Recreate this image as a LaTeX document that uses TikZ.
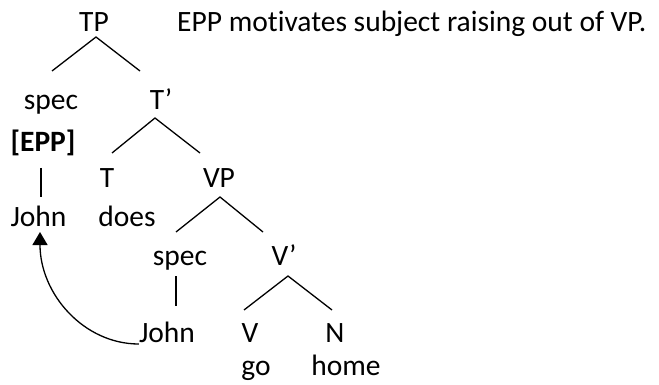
\documentclass[tikz,border=0pt]{standalone}
\usepackage{fontspec}
\setmainfont{Carlito}[Ligatures=NoCommon]
\usetikzlibrary{arrows.meta}
\begin{document}
\begin{tikzpicture}[x=1pt,y=-1pt,
  lbl/.style={anchor=base,inner sep=0pt,font=\fontsize{29.5}{34}\selectfont},
  br/.style={line width=1.3pt}]
\useasboundingbox (0,0) rectangle (659,385);
\node[lbl] (tp) at (94,32) {TP};
\node[lbl,anchor=base west] (note) at (177,32) {EPP motivates subject raising out of VP.};
\node[lbl] (spec1) at (51,110) {spec};
\node[lbl] (tbar) at (161,110) {T’};
\node[lbl,font=\fontsize{29.5}{34}\selectfont\bfseries] (epp) at (43,152) {[EPP]};
\node[lbl] (t) at (107,188) {T};
\node[lbl] (vp) at (219,188) {VP};
\node[lbl] (john1) at (38.5,226) {John};
\node[lbl] (does) at (127,226) {does};
\node[lbl] (spec2) at (180,265) {spec};
\node[lbl] (vbar) at (284,265) {V’};
\node[lbl] (john2) at (167,342) {John};
\node[lbl] (v) at (250,342) {V};
\node[lbl] (n) at (335,342) {N};
\node[lbl] (go) at (256,375) {go};
\node[lbl] (home) at (346,375) {home};
% branch points
\coordinate (tpA) at (96,37);
\coordinate (tpL) at (52,71);
\coordinate (tpR) at (140,71);
\coordinate (tbA) at (155,118);
\coordinate (tbL) at (112,153);
\coordinate (tbR) at (200,153);
\coordinate (eppT) at (41,168);
\coordinate (eppB) at (41,197);
\coordinate (vpA) at (220,197);
\coordinate (vpL) at (176,232);
\coordinate (vpR) at (263,232);
\coordinate (s2T) at (176,276);
\coordinate (s2B) at (176,306);
\coordinate (vbA) at (288,276);
\coordinate (vbL) at (244,310);
\coordinate (vbR) at (332,310);
\draw[br] (tpL) -- (tpA) -- (tpR);
\draw[br] (tbL) -- (tbA) -- (tbR);
\draw[br] (eppT) -- (eppB);
\draw[br] (vpL) -- (vpA) -- (vpR);
\draw[br] (s2T) -- (s2B);
\draw[br] (vbL) -- (vbA) -- (vbR);
\draw[line width=1.3pt,-{Triangle[length=13pt,width=15pt]}]
  ([yshift=-2pt]john2.base west) .. controls +(-55,0) and +(0,62) .. ([xshift=1.5pt,yshift=-6pt]john1.base);
\end{tikzpicture}
\end{document}
